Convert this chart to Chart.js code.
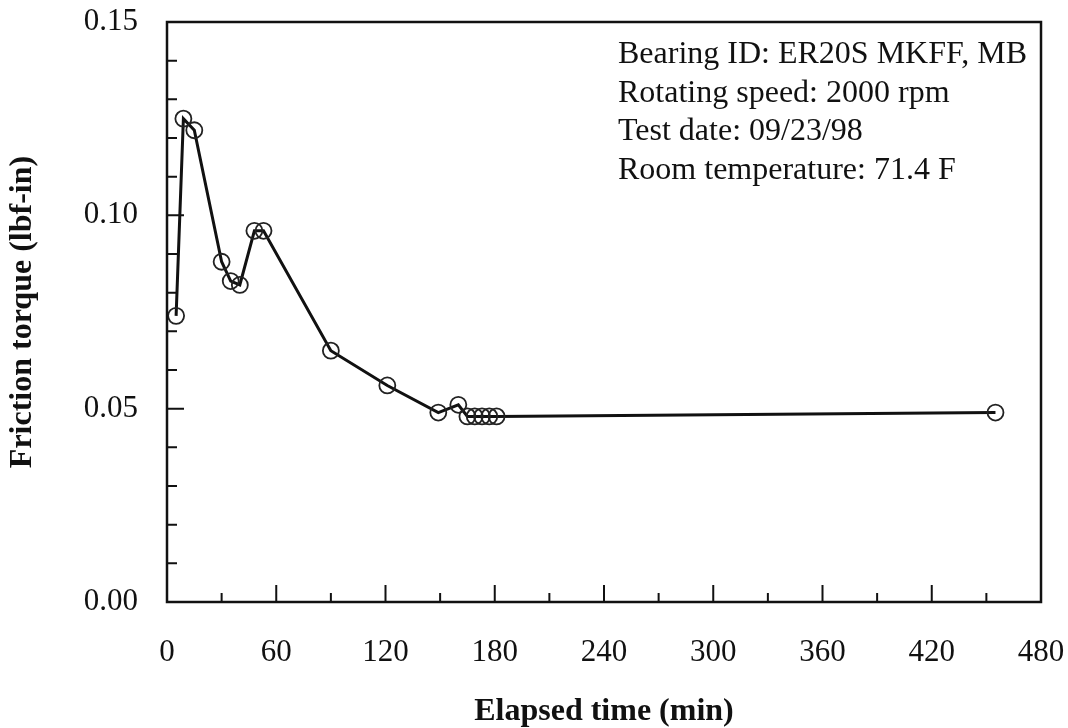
<!DOCTYPE html>
<html>
<head>
<meta charset="utf-8">
<script src="https://cdn.jsdelivr.net/npm/chart.js@4/dist/chart.umd.min.js"></script>
<style>
    body { margin: 0; background: #fff; }
    #wrap { width: 1068px; height: 728px; }
</style>
</head>
<body>
<div id="wrap"><canvas id="chart" width="1068" height="728"></canvas></div>
<script>
// elapsed time (min) and friction torque (lbf-in)
const elapsedTime = [5, 9, 15, 30, 35, 40, 48, 53, 90, 121, 149, 160, 165, 169, 173, 177, 181, 455];
const frictionTorque = [0.074, 0.125, 0.122, 0.088, 0.083, 0.082, 0.096, 0.096, 0.065, 0.056, 0.049, 0.051, 0.048, 0.048, 0.048, 0.048, 0.048, 0.049];

const xTicks = [0, 60, 120, 180, 240, 300, 360, 420, 480];
const yTicks = [0, 0.05, 0.10, 0.15];

const infoLines = [
    'Bearing ID: ER20S MKFF, MB',
    'Rotating speed: 2000 rpm',
    'Test date: 09/23/98',
    'Room temperature: 71.4 F'
];

const serif = '"Liberation Serif", "Times New Roman", serif';

// keep the plot box where the reference has it
function noPad(scale) {
    scale.paddingTop = 0;
    scale.paddingBottom = 0;
    scale.paddingLeft = 0;
    scale.paddingRight = 0;
}

// frame box + inward tick marks + info text
const framePlugin = {
    id: 'frame',
    afterDraw(chart) {
        const ctx = chart.ctx;
        const area = chart.chartArea;
        const xs = chart.scales.x;
        const ys = chart.scales.y;
        ctx.save();
        ctx.strokeStyle = '#111';
        ctx.lineWidth = 2.5;
        ctx.strokeRect(area.left, area.top, area.right - area.left, area.bottom - area.top);

        ctx.lineWidth = 2;
        ctx.beginPath();
        for (let v = 30; v < 480; v += 30) {
            const px = xs.getPixelForValue(v);
            const len = v % 60 === 0 ? 17 : 9;
            ctx.moveTo(px, area.bottom);
            ctx.lineTo(px, area.bottom - len);
        }
        for (let i = 1; i < 15; i++) {
            const py = ys.getPixelForValue(i / 100);
            const len = i % 5 === 0 ? 17 : 10;
            ctx.moveTo(area.left, py);
            ctx.lineTo(area.left + len, py);
        }
        ctx.stroke();

        ctx.fillStyle = '#111';
        ctx.font = '32px ' + serif;
        ctx.textAlign = 'left';
        ctx.textBaseline = 'alphabetic';
        infoLines.forEach((t, i) => {
            ctx.fillText(t, 618, 63 + i * 38.5);
        });
        ctx.restore();
    }
};

const chart = document.querySelector('#chart').getContext('2d');

new Chart(chart, {
    type: 'scatter',
    data: {
        datasets: [
            {
                data: elapsedTime.map((t, i) => ({ x: t, y: frictionTorque[i] })),
                showLine: true,
                borderColor: '#111',
                borderWidth: 3,
                pointRadius: 8,
                pointBorderWidth: 1.8,
                pointBorderColor: '#222',
                pointBackgroundColor: 'rgba(0,0,0,0)',
                tension: 0
            }
        ]
    },
    options: {
        responsive: false,
        animation: false,
        layout: { padding: { top: 22, right: 27, left: 0, bottom: 0 } },
        plugins: {
            legend: { display: false },
            tooltip: { enabled: false }
        },
        scales: {
            x: {
                type: 'linear',
                min: 0,
                max: 480,
                afterFit: (scale) => { scale.height = 126; noPad(scale); },
                afterBuildTicks: (scale) => { scale.ticks = xTicks.map(v => ({ value: v })); },
                grid: { display: false, drawTicks: false },
                border: { display: false },
                ticks: {
                    color: '#111',
                    font: { family: serif, size: 31 },
                    padding: 32,
                    maxRotation: 0,
                    autoSkip: false
                },
                title: {
                    display: true,
                    text: 'Elapsed time (min)',
                    color: '#111',
                    font: { family: serif, size: 32, weight: 'bold', lineHeight: 1 },
                    padding: { top: 0, bottom: 0 }
                }
            },
            y: {
                min: 0,
                max: 0.15,
                afterFit: (scale) => { scale.width = 167; noPad(scale); },
                afterBuildTicks: (scale) => { scale.ticks = yTicks.map(v => ({ value: v })); },
                grid: { display: false, drawTicks: false },
                border: { display: false },
                ticks: {
                    color: '#111',
                    font: { family: serif, size: 31 },
                    padding: 29,
                    autoSkip: false,
                    callback: (v) => v.toFixed(2)
                },
                title: {
                    display: true,
                    text: 'Friction torque (lbf-in)',
                    color: '#111',
                    font: { family: serif, size: 32, weight: 'bold', lineHeight: 1 },
                    padding: { top: 7, bottom: 0 }
                }
            }
        }
    },
    plugins: [framePlugin]
});
</script>
</body>
</html>
